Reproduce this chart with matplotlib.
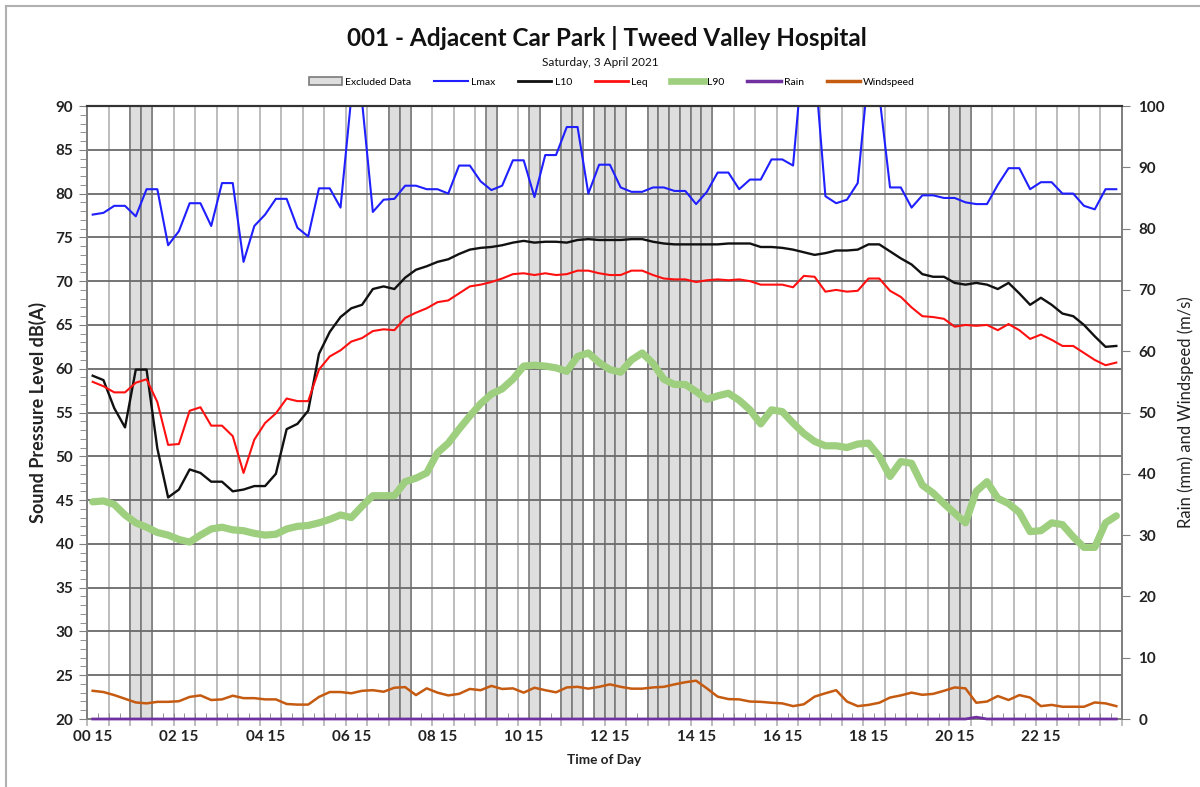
import numpy as np
import matplotlib.pyplot as plt
from matplotlib.patches import Patch
from matplotlib.lines import Line2D

plt.rcParams['font.family'] = ['Lato', 'DejaVu Sans']

# 15 minute intervals, 00:15 .. 24:00
times = [f"{(15 * (i + 1)) // 60:02d} {(15 * (i + 1)) % 60:02d}" for i in range(96)]

lmax = [77.6, 77.8, 78.6, 78.6, 77.4, 80.5, 80.5, 74.1, 75.7, 78.9,
        78.9, 76.3, 81.2, 81.2, 72.2, 76.3, 77.6, 79.4, 79.4, 76.1,
        75.1, 80.6, 80.6, 78.4, 91.0, 90.5, 77.9, 79.3, 79.4, 80.9,
        80.9, 80.5, 80.5, 80.0, 83.2, 83.2, 81.4, 80.4, 80.9, 83.8,
        83.8, 79.6, 84.4, 84.4, 87.6, 87.6, 80.0, 83.3, 83.3, 80.7,
        80.2, 80.2, 80.7, 80.7, 80.3, 80.3, 78.8, 80.2, 82.4, 82.4,
        80.5, 81.6, 81.6, 83.9, 83.9, 83.2, 97.0, 95.0, 79.7, 78.9,
        79.3, 81.2, 94.0, 91.3, 80.7, 80.7, 78.4, 79.8, 79.8, 79.5,
        79.5, 79.0, 78.8, 78.8, 81.0, 82.9, 82.9, 80.5, 81.3, 81.3,
        80.0, 80.0, 78.6, 78.2, 80.5, 80.5]

l10 = [59.2, 58.7, 55.5, 53.3, 59.9, 59.9, 50.9, 45.3, 46.2, 48.5,
       48.1, 47.1, 47.1, 46.0, 46.2, 46.6, 46.6, 48.0, 53.1, 53.7,
       55.2, 61.7, 64.2, 65.9, 66.9, 67.3, 69.1, 69.4, 69.1, 70.4,
       71.3, 71.7, 72.2, 72.5, 73.1, 73.6, 73.8, 73.9, 74.1, 74.4,
       74.6, 74.4, 74.5, 74.5, 74.4, 74.7, 74.8, 74.7, 74.7, 74.7,
       74.8, 74.8, 74.5, 74.3, 74.2, 74.2, 74.2, 74.2, 74.2, 74.3,
       74.3, 74.3, 73.9, 73.9, 73.8, 73.6, 73.3, 73.0, 73.2, 73.5,
       73.5, 73.6, 74.2, 74.2, 73.4, 72.6, 71.9, 70.8, 70.5, 70.5,
       69.8, 69.6, 69.8, 69.6, 69.1, 69.8, 68.6, 67.3, 68.1, 67.3,
       66.3, 66.0, 65.0, 63.7, 62.5, 62.6]

leq = [58.5, 58.0, 57.3, 57.3, 58.4, 58.8, 56.2, 51.3, 51.4, 55.2,
       55.6, 53.5, 53.5, 52.3, 48.1, 51.9, 53.8, 54.9, 56.6, 56.3,
       56.3, 59.9, 61.4, 62.1, 63.1, 63.5, 64.3, 64.5, 64.4, 65.8,
       66.4, 66.9, 67.6, 67.8, 68.6, 69.4, 69.6, 69.9, 70.3, 70.8,
       70.9, 70.7, 70.9, 70.7, 70.8, 71.2, 71.2, 70.9, 70.7, 70.7,
       71.2, 71.2, 70.7, 70.3, 70.2, 70.2, 69.9, 70.1, 70.2, 70.1,
       70.2, 70.0, 69.6, 69.6, 69.6, 69.3, 70.6, 70.5, 68.8, 69.0,
       68.8, 68.9, 70.3, 70.3, 68.9, 68.2, 67.0, 66.0, 65.9, 65.7,
       64.8, 65.0, 64.9, 65.0, 64.4, 65.1, 64.4, 63.4, 63.9, 63.3,
       62.6, 62.6, 61.8, 61.0, 60.4, 60.7]

l90 = [44.8, 44.9, 44.5, 43.3, 42.4, 41.9, 41.3, 41.0, 40.5, 40.2,
       41.0, 41.7, 41.9, 41.6, 41.5, 41.2, 41.0, 41.1, 41.7, 42.0,
       42.1, 42.4, 42.8, 43.3, 43.0, 44.3, 45.5, 45.5, 45.5, 47.1,
       47.5, 48.1, 50.4, 51.5, 53.1, 54.6, 56.0, 57.1, 57.7, 58.8,
       60.3, 60.4, 60.3, 60.1, 59.7, 61.4, 61.8, 60.7, 59.9, 59.6,
       61.0, 61.8, 60.6, 58.8, 58.2, 58.2, 57.4, 56.5, 56.9, 57.2,
       56.4, 55.3, 53.7, 55.3, 55.1, 53.8, 52.6, 51.7, 51.2, 51.2,
       51.0, 51.4, 51.5, 50.0, 47.7, 49.4, 49.2, 46.7, 45.8, 44.6,
       43.5, 42.4, 46.0, 47.1, 45.2, 44.6, 43.6, 41.4, 41.5, 42.4,
       42.2, 40.8, 39.6, 39.6, 42.4, 43.2]

rain = [0.0] * 82 + [0.3] + [0.0] * 13

windspeed = [4.6, 4.4, 3.9, 3.3, 2.7, 2.55, 2.8, 2.8, 2.9, 3.6,
             3.85, 3.1, 3.2, 3.8, 3.4, 3.4, 3.2, 3.2, 2.45, 2.35,
             2.35, 3.6, 4.4, 4.4, 4.2, 4.6, 4.7, 4.45, 5.1, 5.2,
             3.9, 5.0, 4.3, 3.85, 4.1, 4.9, 4.7, 5.4, 4.9, 5.0,
             4.3, 5.1, 4.7, 4.35, 5.15, 5.25, 4.95, 5.25, 5.65, 5.25,
             4.95, 4.95, 5.15, 5.25, 5.65, 6.0, 6.25, 5.0, 3.65, 3.25,
             3.2, 2.85, 2.8, 2.65, 2.55, 2.1, 2.4, 3.65, 4.2, 4.7,
             2.85, 2.1, 2.3, 2.65, 3.5, 3.85, 4.3, 3.95, 4.1, 4.6,
             5.15, 5.0, 2.65, 2.85, 3.75, 3.1, 3.9, 3.5, 2.1, 2.3,
             2.0, 2.0, 2.0, 2.7, 2.55, 2.1]

excluded_times = ["01 15", "01 30", "07 15", "07 30", "09 30", "10 30",
                  "11 15", "11 30", "12 00", "12 15", "12 30",
                  "13 15", "13 30", "13 45", "14 00", "14 15", "14 30",
                  "20 15", "20 30"]

x = np.arange(len(times))
x_excl = [times.index(t) for t in excluded_times]

fig = plt.figure(figsize=(12, 7.87), dpi=100)
ax = fig.add_axes([0.07275, 0.0864, 0.862, 0.7789])
ax2 = ax.twinx()

# excluded data as full-height bars
ax.bar(x_excl, [70] * len(x_excl), bottom=20, width=1.0,
       color="#dedede", edgecolor="#7a7a7a", linewidth=1.2, zorder=0.4)

# vertical grid every 30 min, horizontal every 5 dB
bounds = np.arange(-0.5, 96, 2)
ax.vlines(bounds, -0.012, 1, transform=ax.get_xaxis_transform(),
          color="#b8b8b8", linewidth=1.3, zorder=0.35, clip_on=False)
ax.set_axisbelow(True)
ax.yaxis.grid(True, color="#6a6a6a", linewidth=1.3)

ax.plot(x, lmax, color="#1f1fff", linewidth=1.5, zorder=3)
ax.plot(x, l10, color="#111111", linewidth=1.7, zorder=3)
ax.plot(x, leq, color="#ff1010", linewidth=1.5, zorder=3)
ax.plot(x, l90, color="#9dcf7e", linewidth=5.2, zorder=2.5,
        solid_capstyle="round", solid_joinstyle="round")
ax2.plot(x, rain, color="#7030a0", linewidth=2.0, zorder=3, clip_on=False)
ax2.plot(x, windspeed, color="#c55a11", linewidth=1.8, zorder=3)

ax.set_xlim(-0.5, 95.5)
ax.set_ylim(20, 90)
ax2.set_ylim(0, 100)

ax.set_yticks(np.arange(20, 91, 5))
ax.set_yticks(np.arange(20, 91, 1), minor=True)
ax2.set_yticks(np.arange(0, 101, 10))

ax.set_xticks(x[::8], [times[i] for i in x[::8]])
ax.set_xticks(np.arange(-0.5, 96, 1), minor=True)
ax.tick_params(axis="x", which="major", length=0, pad=8)
ax.tick_params(axis="x", which="minor", direction="in", length=4,
               color="#808080")
ax.tick_params(axis="y", which="major", length=6, color="#808080", pad=4)
ax.tick_params(axis="y", which="minor", length=5, color="#808080")
ax2.tick_params(axis="y", length=6, color="#808080", pad=6)

for lab in ax.get_xticklabels() + ax.get_yticklabels() + ax2.get_yticklabels():
    lab.set_fontweight("bold")
    lab.set_fontsize(11)
    lab.set_color("#222222")

for a in (ax, ax2):
    for s in ("left", "right", "bottom"):
        a.spines[s].set_color("#808080")
        a.spines[s].set_linewidth(1.2)
    a.spines["top"].set_color("#333333")
    a.spines["top"].set_linewidth(1.5)

ax.set_ylabel("Sound Pressure Level dB(A)", fontsize=13, fontweight="bold",
              color="#222222", labelpad=6)
ax2.set_ylabel("Rain (mm) and Windspeed (m/s)", fontsize=12,
               color="#222222", labelpad=9)
ax.set_xlabel("Time of Day", fontsize=9.8, fontweight="bold", color="#222222",
              labelpad=7)

fig.text(0.506, 1 - 38 / 787, "001 - Adjacent Car Park | Tweed Valley Hospital",
         ha="center", va="center", fontsize=17.5, fontweight="bold",
         color="#111111")
fig.text(0.5, 1 - 62 / 787, "Saturday, 3 April 2021", ha="center",
         va="center", fontsize=8.5, color="#111111")

handles = [
    Patch(facecolor="#dedede", edgecolor="#7a7a7a", linewidth=1.2),
    Line2D([], [], color="#1f1fff", linewidth=1.5),
    Line2D([], [], color="#111111", linewidth=2),
    Line2D([], [], color="#ff1010", linewidth=2),
    Line2D([], [], color="#9dcf7e", linewidth=4.8),
    Line2D([], [], color="#7030a0", linewidth=2.5),
    Line2D([], [], color="#c55a11", linewidth=2.5),
]
labels = ["Excluded Data", "Lmax", "L10", "Leq", "L90", "Rain", "Windspeed"]
fig.legend(handles, labels, loc="center", bbox_to_anchor=(0.51, 1 - 82 / 787),
           ncol=7, frameon=False, fontsize=7.5, handlelength=3.2,
           handletextpad=0.3, columnspacing=2.2)

# chart border (top and left visible in the reference)
fig.add_artist(Line2D([6 / 1200, 6 / 1200], [0, 1 - 6 / 787],
                      color="#b0b0b0", linewidth=1.5))
fig.add_artist(Line2D([6 / 1200, 1], [1 - 6 / 787, 1 - 6 / 787],
                      color="#b0b0b0", linewidth=1.5))

fig.savefig("out.png", dpi=100)
